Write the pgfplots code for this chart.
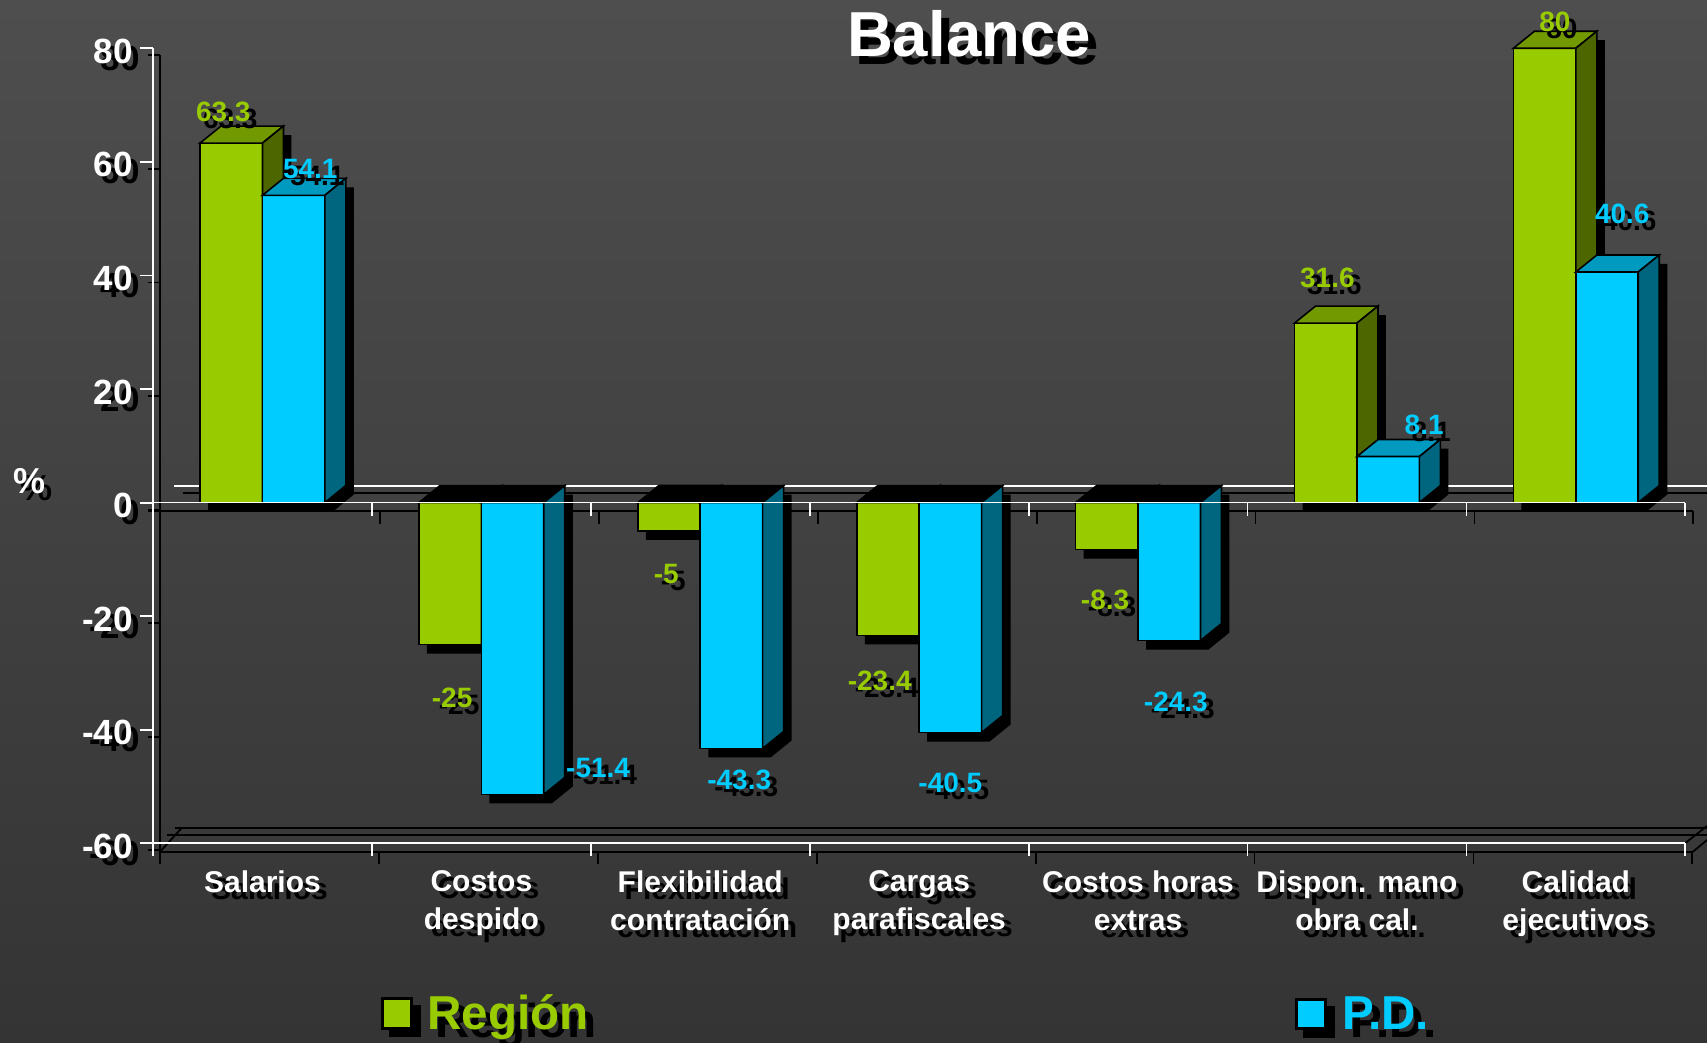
\documentclass[border=0pt]{standalone}
\usepackage{pgfplots}
\pgfplotsset{compat=1.18}
\usepackage{pgfplotstable}
\usepackage{fontspec}
\setmainfont{Liberation Sans}

\definecolor{grn}{HTML}{99CC00}
\definecolor{grnTop}{HTML}{739900}
\definecolor{grnSide}{HTML}{4D6600}
\definecolor{cyn}{HTML}{00CCFF}
\definecolor{cynTop}{HTML}{0099BF}
\definecolor{cynSide}{HTML}{006680}
\definecolor{bgTop}{HTML}{4E4E4E}
\definecolor{bgMid}{HTML}{606060}
\definecolor{bgBot}{HTML}{343434}

% text with a black drop shadow
\newcommand\shadowtext[3][3.5pt]{%
  \rlap{\smash{\kern#1\raisebox{-#1}{\color{black}#3}}}{\color{#2}#3}}

% 3d bar drawn as a plot mark at the bar end: front, top, side colour, shift (pt)
\newcommand\barthreed[4]{%
  \pgfmathsetmacro\ya{-1*(\val)*2.8395}%
  \pgfmathsetmacro\yt{max(0,\ya)}%
  \pgfmathsetmacro\yb{min(0,\ya)}%
  \pgfmathsetmacro\xl{#4-15.6}%
  \pgfmathsetmacro\xr{#4+15.6}%
  \pgfsetlinewidth{0.8pt}%
  \pgfsetstrokecolor{black}%
  \pgfsetfillcolor{black}%
  \pgfpathmoveto{\pgfpoint{\xl pt+4pt}{\yb pt-4.5pt}}%
  \pgfpathlineto{\pgfpoint{\xr pt+4pt}{\yb pt-4.5pt}}%
  \pgfpathlineto{\pgfpoint{\xr pt+14.5pt}{\yb pt+4pt}}%
  \pgfpathlineto{\pgfpoint{\xr pt+14.5pt}{\yt pt+4pt}}%
  \pgfpathlineto{\pgfpoint{\xl pt+14.5pt}{\yt pt+4pt}}%
  \pgfpathlineto{\pgfpoint{\xl pt+4pt}{\yt pt-4.5pt}}%
  \pgfpathclose\pgfusepath{fill}%
  \pgfsetfillcolor{#1}%
  \pgfpathrectanglecorners{\pgfpoint{\xl pt}{\yb pt}}{\pgfpoint{\xr pt}{\yt pt}}%
  \pgfusepath{fill,stroke}%
  \ifdim\val pt<0pt \pgfsetfillcolor{black}\else\pgfsetfillcolor{#2}\fi
  \pgfpathmoveto{\pgfpoint{\xl pt}{\yt pt}}%
  \pgfpathlineto{\pgfpoint{\xr pt}{\yt pt}}%
  \pgfpathlineto{\pgfpoint{\xr pt+10.5pt}{\yt pt+8.5pt}}%
  \pgfpathlineto{\pgfpoint{\xl pt+10.5pt}{\yt pt+8.5pt}}%
  \pgfpathclose\pgfusepath{fill,stroke}%
  \pgfsetfillcolor{#3}%
  \pgfpathmoveto{\pgfpoint{\xr pt}{\yb pt}}%
  \pgfpathlineto{\pgfpoint{\xr pt}{\yt pt}}%
  \pgfpathlineto{\pgfpoint{\xr pt+10.5pt}{\yt pt+8.5pt}}%
  \pgfpathlineto{\pgfpoint{\xr pt+10.5pt}{\yb pt+8.5pt}}%
  \pgfpathclose\pgfusepath{fill,stroke}%
}
\pgfdeclareplotmark{gbar}{\barthreed{grn}{grnTop}{grnSide}{-15.6}}
\pgfdeclareplotmark{cbar}{\barthreed{cyn}{cynTop}{cynSide}{15.6}}

% x = category, y = value, dx/dy = label offset (pt)
\pgfplotstableread{
x y dx dy
0 63.3 -19.6 15.5
1 -25 -14.6 -26.7
2 -5 -17.0 -21.4
3 -23.4 -19.7 -22.5
4 -8.3 -16.5 -25.1
5 31.6 -14.8 22.7
6 80 -10.5 13.2
}\tblRegion
\pgfplotstableread{
x y dx dy
0 54.1 23.9 13.3
1 -51.4 58.4 13.1
2 -43.3 19.5 -15.5
3 -40.5 15.6 -25.1
4 -24.3 18.9 -30.8
5 8.1 33.6 15.8
6 40.6 23.2 29.3
}\tblPD

\pgfplotsset{
  bar3d/.style={only marks, point meta=explicit symbolic,
    visualization depends on={\thisrow{y} \as \val},
    visualization depends on={\thisrow{dx} \as \dxl},
    visualization depends on={\thisrow{dy} \as \dyl},
    every node near coord/.append style={anchor=center, inner sep=0pt,
      xshift=\dxl pt, yshift=\dyl pt, font=\fontsize{14}{16}\selectfont\bfseries}},
}

\begin{document}
\begin{tikzpicture}
\path[use as bounding box] (0,0) rectangle (853.5pt,521.5pt);
\shade[top color=bgTop, middle color=bgMid, bottom color=bgBot] (0,0) rectangle (853.5pt,521.5pt);

% back wall / floor lines (coordinates in pixels from top left)
\begin{scope}[x=0.5pt, y=-0.5pt, yshift=521.5pt, line width=0.9pt]
  \draw[black] (183,493) -- (1707,493);
  \draw[white] (174,485.7) -- (1707,485.7);
  \draw[black] (148,511) -- (1693,511);
  \foreach \i in {1,...,7} \draw[black] ({153+\i*218.9+8},511) -- ++(0,13);
  \draw[black] (160,55) -- (160,864);
  \foreach \i in {0,...,7} \draw[black] (148,{48.3+\i*113.58+7}) -- (160,{48.3+\i*113.58+7});
  \draw[white] (153,48.3) -- (153,856);
  \foreach \i in {0,...,7} \draw[white] (140,{48.3+\i*113.58}) -- (153,{48.3+\i*113.58});
  \draw[black] (175,827.7) -- (1707,827.7);
  \draw[black] (167,835) -- (1707,835);
  \draw[black] (160,851.7) -- (1693,851.7);
  \draw[black] (160,851.7) -- (182,827.7);
  \draw[black] (1685,843.3) -- (1707,826);
  \draw[black] (1693,851.7) -- (1707,840);
  \foreach \i in {1,...,7} \draw[black] ({153+\i*218.9+7},851.7) -- ++(0,12);
  \draw[white] (153,843.3) -- (1685,843.3);
  \foreach \i in {1,...,7} \draw[white] ({153+\i*218.9},843.3) -- ++(0,13);
\end{scope}

\begin{axis}[
  at={(76.5pt,99.85pt)}, anchor=south west,
  x=109.45pt, y=2.8395pt,
  xmin=-0.5, xmax=6.5, ymin=-60, ymax=80,
  clip=false,
  axis line style={draw=none},
  major tick length=0pt,
  xtick={0,...,6},
  xticklabels={
    {\shadowtext{white}{Salarios}},
    {\shadowtext{white}{Costos}\\\shadowtext{white}{despido}},
    {\shadowtext{white}{Flexibilidad}\\\shadowtext{white}{contratación}},
    {\shadowtext{white}{Cargas}\\\shadowtext{white}{parafiscales}},
    {\shadowtext{white}{Costos horas}\\\shadowtext{white}{extras}},
    {\shadowtext{white}{Dispon. mano}\\\shadowtext{white}{obra cal.}},
    {\shadowtext{white}{Calidad}\\\shadowtext{white}{ejecutivos}}},
  xticklabel style={anchor=north, align=center, inner sep=0pt, yshift=-13.5pt,
    font=\fontsize{15}{19}\selectfont\bfseries},
  ytick={-60,-40,...,80},
  yticklabel={\shadowtext{white}{\pgfmathprintnumber{\tick}}},
  yticklabel style={anchor=east, inner sep=0pt, xshift=-10pt, yshift=-1.5pt,
    font=\fontsize{17.5}{21}\selectfont\bfseries},
  /pgf/number format/assume math mode=true,
]
\addplot[bar3d, mark=gbar, nodes near coords={\shadowtext{grn}{\pgfplotspointmeta}}]
  table[x=x, y=y, meta=y] {\tblRegion};
\addplot[bar3d, mark=cbar, nodes near coords={\shadowtext{cyn}{\pgfplotspointmeta}}]
  table[x=x, y=y, meta=y] {\tblPD};
\end{axis}

\begin{scope}[x=0.5pt, y=-0.5pt, yshift=521.5pt]
  \draw[white, line width=0.9pt] (140,502.6) -- (1685,502.6);
  \foreach \i in {1,...,7} \draw[white, line width=0.9pt] ({153+\i*218.9},502.6) -- ++(0,13);
  \node[anchor=base, inner sep=0pt, font=\fontsize{31.8}{36}\selectfont\bfseries]
    at (969,56.6) {\shadowtext[4pt]{white}{Balance}};
  \node[inner sep=0pt, font=\fontsize{18}{21}\selectfont\bfseries]
    at (29.5,481) {\shadowtext{white}{\%}};
  \fill[black] (389,1005) rectangle (421,1037);
  \draw[black, line width=1.5pt, fill=grn] (382.2,998.2) rectangle (411.5,1028.5);
  \node[anchor=base west, inner sep=0pt, font=\fontsize{23.8}{28}\selectfont\bfseries]
    at (427,1030) {\shadowtext[4pt]{grn}{Región}};
  \fill[black] (1303,1006) rectangle (1335,1038);
  \draw[black, line width=1.5pt, fill=cyn] (1296.5,999.5) rectangle (1325.5,1028.5);
  \node[anchor=base west, inner sep=0pt, font=\fontsize{23.8}{28}\selectfont\bfseries]
    at (1342,1030) {\shadowtext[4pt]{cyn}{P.D.}};
\end{scope}
\end{tikzpicture}
\end{document}
